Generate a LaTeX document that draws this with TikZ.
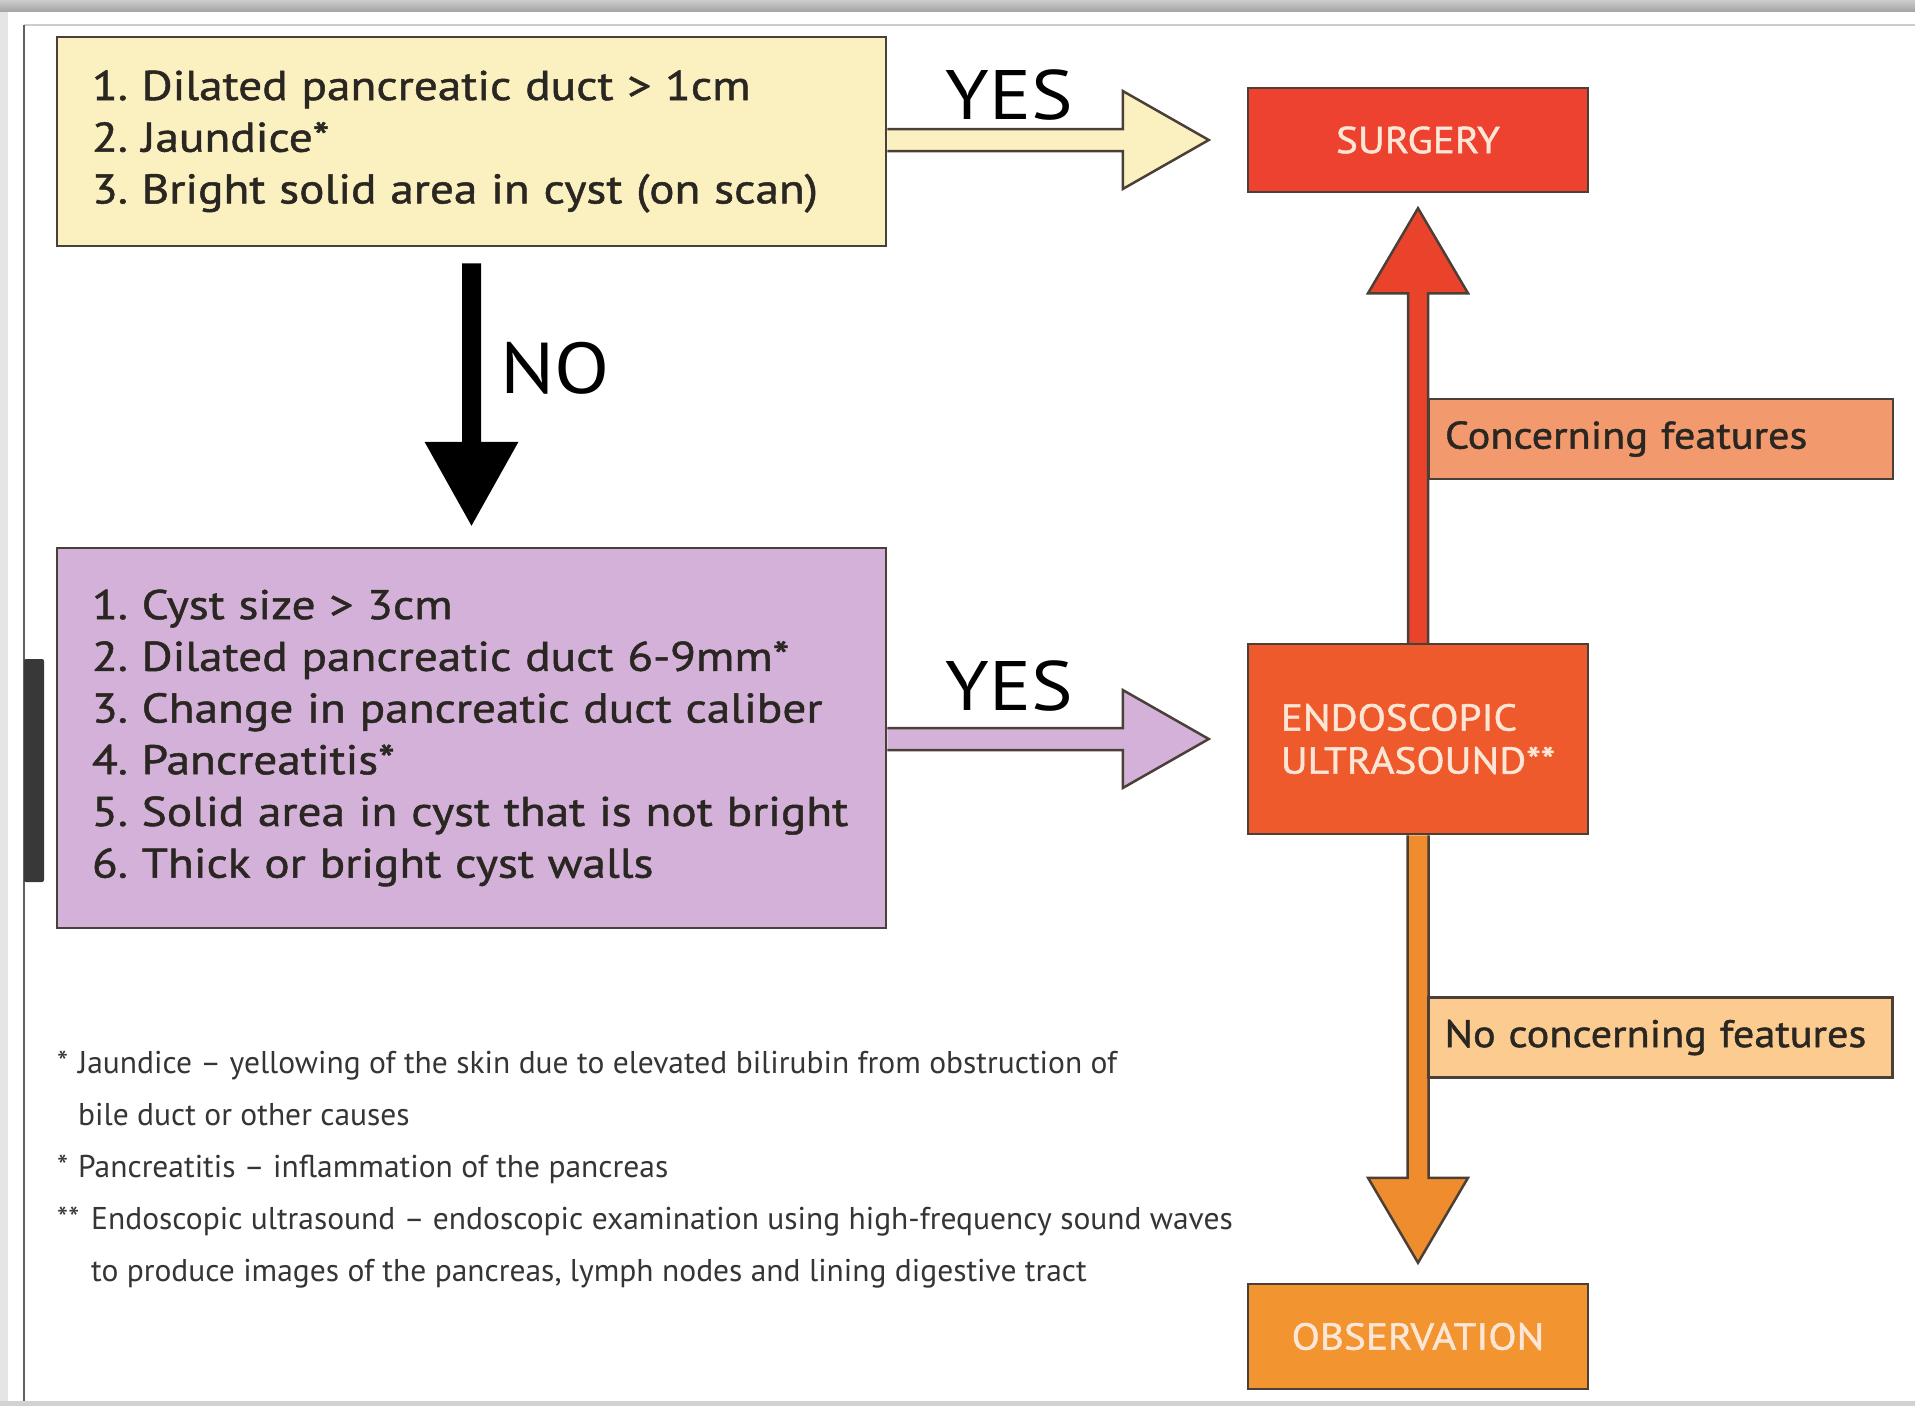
\documentclass[tikz,border=0pt]{standalone}
\usepackage{fontspec}
\setmainfont{PT Sans}[FakeStretch=1.12]
\newfontfamily\semifont{PT Sans}[FakeStretch=1.1, FakeBold=1.2]
\newfontfamily\critfont{PT Sans}[FakeStretch=1.14, FakeBold=1.2]
\newfontfamily\notefont{PT Sans}[FakeStretch=1.0]
\usepackage{xcolor}
\usepackage{tikz}
\usetikzlibrary{calc, positioning}
\frenchspacing

\definecolor{critYellow}{HTML}{FBF0C0}
\definecolor{critPurple}{HTML}{D4B1D8}
\definecolor{critText}{HTML}{2A2621}
\definecolor{boxEdge}{HTML}{4A4038}
\definecolor{surgRed}{HTML}{EE4230}
\definecolor{eusRed}{HTML}{EE5A2C}
\definecolor{upRed}{HTML}{E9432C}
\definecolor{downOrange}{HTML}{EE8C2E}
\definecolor{obsOrange}{HTML}{F29430}
\definecolor{concernSalmon}{HTML}{F29A6E}
\definecolor{calmPeach}{HTML}{FBCB90}
\definecolor{stepText}{HTML}{FDE6D6}
\definecolor{noteText}{HTML}{353535}

\tikzset{
  critbox/.style={draw=boxEdge, line width=2.5pt, align=left, inner xsep=35pt,
    text width=759pt, minimum width=829pt, text=critText,
    font=\critfont\fontsize{41.5}{51.7}\selectfont},
  stepbox/.style={draw=boxEdge, line width=2.5pt, minimum width=340pt,
    text=stepText, font=\semifont\fontsize{37.5}{43}\selectfont},
  flagbox/.style={draw=boxEdge, line width=2.5pt, align=left, inner xsep=16pt,
    text width=432pt, minimum height=80pt, text=critText,
    font=\semifont\fontsize{38.5}{44}\selectfont},
  blockarrow/.style={draw=boxEdge, line width=2.5pt, line join=miter},
  answer/.style={font=\fontsize{70}{80}\selectfont, text=black},
  notes/.style={inner sep=0pt, align=left, text=noteText,
    font=\notefont\fontsize{31.5}{52}\selectfont},
}

\begin{document}
\begin{tikzpicture}[x=1pt, y=-1pt]
  \useasboundingbox (0,0) rectangle (1915,1406);

  % === Window frame ===
  \fill[white] (0,0) rectangle (1915,1406);
  \fill[gray!20] (0,0) rectangle (8,1406);
  \shade[top color=gray!40, bottom color=gray!70] (0,0) rectangle (1915,11);
  \draw[gray!40, line width=2] (24,25) -- (1915,25);
  \draw[gray!75!black, line width=2.5] (24,25) -- (24,1402);
  \fill[gray!35] (0,1401) rectangle (1915,1406);
  \fill[black!78, rounded corners=2] (24,659) rectangle (44,882);

  % === Boxes ===
  \node[critbox, fill=critYellow, minimum height=209pt] (crit1) at (471.5,141.5)
    {1. Dilated pancreatic duct > 1cm\\2. Jaundice*\\3. Bright solid area in cyst (on scan)};
  \node[critbox, fill=critPurple, minimum height=380pt] (crit2) at (471.5,738)
    {1. Cyst size > 3cm\\2. Dilated pancreatic duct 6-9mm*\\3. Change in pancreatic duct caliber\\4. Pancreatitis*\\5. Solid area in cyst that is not bright\\6. Thick or bright cyst walls};

  \node[stepbox, fill=surgRed, minimum height=104pt] (surgery) at (1418,140) {SURGERY};
  \node[stepbox, fill=eusRed, minimum height=190pt, align=left] (eus) at (1418,739)
    {ENDOSCOPIC\\ULTRASOUND**};
  \node[stepbox, fill=obsOrange, minimum height=105pt] (obs) at (1418,1336.5) {OBSERVATION};

  % === Vertical arrows from the ultrasound box ===
  \coordinate (u1) at (eus.north);
  \coordinate (u2) at ($(surgery.south)+(0,15)$);
  \filldraw[blockarrow, fill=upRed]
    ($(u1)+(-10,0)$) -- ($(u2)+(-10,85)$) -- ($(u2)+(-50,85)$) -- (u2)
    -- ($(u2)+(50,85)$) -- ($(u2)+(10,85)$) -- ($(u1)+(10,0)$);

  \coordinate (d1) at (eus.south);
  \coordinate (d2) at ($(obs.north)+(0,-20)$);
  \filldraw[blockarrow, fill=downOrange]
    ($(d1)+(-10.5,0)$) -- ($(d2)+(-10.5,-85)$) -- ($(d2)+(-50,-85)$) -- (d2)
    -- ($(d2)+(50,-85)$) -- ($(d2)+(10.5,-85)$) -- ($(d1)+(10.5,0)$);

  \node[flagbox, fill=concernSalmon] (concern) at (1661,439) {Concerning features};
  \node[flagbox, fill=calmPeach] (calm) at (1660.5,1037.5) {No concerning features};

  % === YES arrows ===
  \coordinate (y1a) at (crit1.east |- surgery.west);
  \coordinate (y1b) at ($(surgery.west)+(-38,0)$);
  \filldraw[blockarrow, fill=critYellow]
    ($(y1a)+(0,-11)$) -- ($(y1b)+(-86,-11)$) -- ($(y1b)+(-86,-49)$) -- (y1b)
    -- ($(y1b)+(-86,49)$) -- ($(y1b)+(-86,11)$) -- ($(y1a)+(0,11)$);
  \node[answer] (yes1) at (1009,95) {YES};

  \coordinate (y2a) at (crit2.east |- eus.west);
  \coordinate (y2b) at ($(eus.west)+(-38,0)$);
  \filldraw[blockarrow, fill=critPurple]
    ($(y2a)+(0,-11)$) -- ($(y2b)+(-86,-11)$) -- ($(y2b)+(-86,-49)$) -- (y2b)
    -- ($(y2b)+(-86,49)$) -- ($(y2b)+(-86,11)$) -- ($(y2a)+(0,11)$);
  \node[answer] (yes2) at (1009,686) {YES};

  % === NO arrow ===
  \coordinate (n1) at ($(crit1.south)+(0,16)$);
  \coordinate (n2) at ($(crit2.north)+(0,-21)$);
  \fill[black]
    ($(n1)+(-9.5,0)$) -- ($(n2)+(-9.5,-84)$) -- ($(n2)+(-47,-84)$) -- (n2)
    -- ($(n2)+(47,-84)$) -- ($(n2)+(9.5,-84)$) -- ($(n1)+(9.5,0)$) -- cycle;
  \node[answer, font=\fontsize{72}{80}\selectfont] (no) at (555,368) {NO};

  % === Footnotes ===
  \node[notes, anchor=west] (glossary) at (57,1170)
    {\makebox[21pt][l]{*}Jaundice – yellowing of the skin due to elevated bilirubin from obstruction of\\
     \hspace*{21pt}bile duct or other causes\\
     \makebox[21pt][l]{*}Pancreatitis – inflammation of the pancreas\\
     \makebox[34pt][l]{**}Endoscopic ultrasound – endoscopic examination using high-frequency sound waves\\
     \hspace*{34pt}to produce images of the pancreas, lymph nodes and lining digestive tract};
\end{tikzpicture}
\end{document}
